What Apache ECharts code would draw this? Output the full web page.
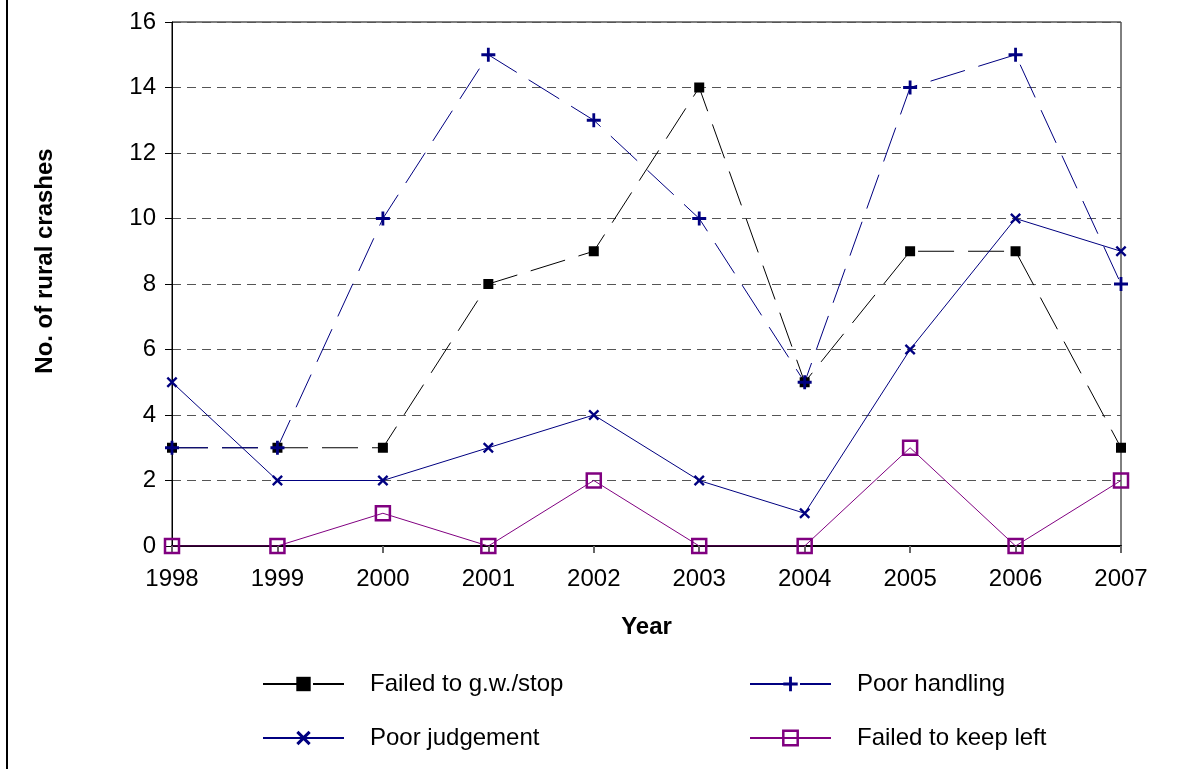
<!DOCTYPE html>
<html>
<head>
<meta charset="utf-8">
<script src="https://cdn.jsdelivr.net/npm/echarts@6/dist/echarts.min.js"></script>
<style>
  html, body { margin: 0; padding: 0; background: #fff; }
  #chart { width: 1199px; height: 769px; }
</style>
</head>
<body>
<div id="chart"></div>
<script>
// 年份
var years = ['1998', '1999', '2000', '2001', '2002', '2003', '2004', '2005', '2006', '2007'];
// 各类事故数
var failed_gw_stop = [3, 3, 3, 8, 9, 14, 5, 9, 9, 3];
var poor_handling = [3, 3, 10, 15, 13, 10, 5, 14, 15, 8];
var poor_judgement = [5, 2, 2, 3, 4, 2, 1, 6, 10, 9];
var failed_keep_left = [0, 0, 1, 0, 2, 0, 0, 3, 0, 2];

var font = 'Liberation Sans, Arial, sans-serif';
var plus_path = 'path://M4,0H6V4H10V6H6V10H4V6H0V4H4Z';
var x_path = 'path://M0,1.5L1.5,0L5,3.5L8.5,0L10,1.5L6.5,5L10,8.5L8.5,10L5,6.5L1.5,10L0,8.5L3.5,5Z';

function make_legend(name, left, top, item_style){
  var lg = {
    data: [name],
    left: left,
    top: top,
    padding: 0,
    itemWidth: 81,
    itemHeight: 18,
    textStyle: { fontFamily: font, fontSize: 24, lineHeight: 24, color: '#000', padding: [0, 0, 0, 21] }
  };
  if(item_style){
    lg.itemStyle = item_style;
  }
  return lg;
}

var chart = echarts.init(document.getElementById('chart'));
chart.setOption({
  animation: false,
  backgroundColor: '#fff',
  grid: {
    left: 172, right: 78, top: 22, bottom: 223,
    show: true, borderColor: '#000', borderWidth: 1
  },
  legend: [
    make_legend('Failed to g.w./stop', 262, 672),
    make_legend('Poor handling', 749, 672),
    make_legend('Poor judgement', 262, 726),
    make_legend('Failed to keep left', 749, 726, { borderWidth: 2.5 })
  ],
  graphic: [{
    type: 'line',
    shape: { x1: 7, y1: 0, x2: 7, y2: 769 },
    style: { stroke: '#000', lineWidth: 2 }
  }],
  xAxis: {
    type: 'category',
    data: years,
    boundaryGap: false,
    name: 'Year',
    nameLocation: 'middle',
    nameGap: 69,
    nameTextStyle: { fontFamily: font, fontSize: 24, fontWeight: 'bold', color: '#000' },
    axisLine: { lineStyle: { color: '#000', width: 2 } },
    axisTick: { alignWithLabel: true, length: 7, lineStyle: { color: '#666', width: 2 } },
    axisLabel: { fontFamily: font, fontSize: 24, color: '#000', margin: 21 },
    splitLine: { show: false }
  },
  yAxis: {
    type: 'value',
    min: 0, max: 16, interval: 2,
    name: 'No. of rural crashes',
    nameLocation: 'middle',
    nameGap: 115,
    nameTextStyle: { fontFamily: font, fontSize: 24, fontWeight: 'bold', color: '#000', padding: [0, 0, 0, 46] },
    axisLine: { show: true, lineStyle: { color: '#000', width: 1 } },
    axisTick: { show: true, length: 7, lineStyle: { color: '#000' } },
    axisLabel: { fontFamily: font, fontSize: 24, color: '#000', margin: 16 },
    splitLine: { lineStyle: { color: '#555', type: [9, 6], width: 1 } }
  },
  series: [{
    name: 'Failed to g.w./stop',
    type: 'line',
    data: failed_gw_stop,
    symbol: 'rect',
    symbolSize: 10,
    itemStyle: { color: '#000' },
    lineStyle: { color: '#000', width: 1, type: [36, 14] }
  }, {
    name: 'Poor handling',
    type: 'line',
    data: poor_handling,
    symbol: plus_path,
    symbolSize: 14,
    itemStyle: { color: '#000080' },
    lineStyle: { color: '#000080', width: 1, type: [36, 14] }
  }, {
    name: 'Poor judgement',
    type: 'line',
    data: poor_judgement,
    symbol: x_path,
    symbolSize: 11,
    itemStyle: { color: '#000080' },
    lineStyle: { color: '#000080', width: 1 }
  }, {
    name: 'Failed to keep left',
    type: 'line',
    data: failed_keep_left,
    symbol: 'rect',
    symbolSize: 14,
    itemStyle: { color: 'rgba(255,255,255,0)', borderColor: '#800080', borderWidth: 2.5 },
    lineStyle: { color: '#800080', width: 1 }
  }]
});
</script>
</body>
</html>
